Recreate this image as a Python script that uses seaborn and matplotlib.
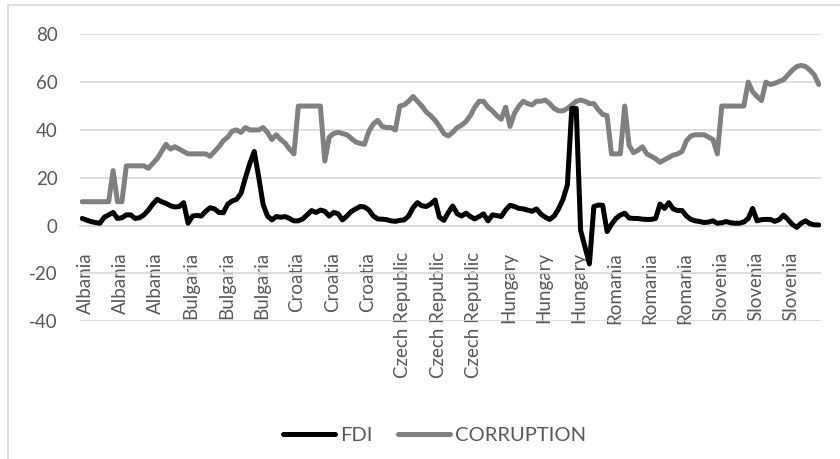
import matplotlib
matplotlib.use("Agg")
import matplotlib.pyplot as plt
import matplotlib.transforms as mtrans
import seaborn as sns
import pandas as pd
from matplotlib.patches import Rectangle
from matplotlib.lines import Line2D

# ---------------- data ----------------
countries = ["Albania", "Bulgaria", "Croatia", "Czech Republic",
             "Hungary", "Romania", "Slovenia"]
obs_per_country = 24
label_every = 8

fdi = [3, 2.3, 1.7, 1.3, 1, 3.5, 4.5, 5.5, 3, 3.3, 4.5, 4.5, 3, 3.3, 4.5, 6.5,
       9, 11, 10, 9.3, 8.3, 7.8, 8, 9.6,
       1, 4, 4.3, 4, 6, 7.5, 7, 5.5, 5.4, 9, 10.3, 11, 13.5, 20, 26, 31,
       20.5, 9, 4, 2.4, 3.8, 3.5, 3.8, 3,
       2, 2, 2.8, 4.5, 6.3, 5.5, 6.5, 6, 4, 5.5, 5, 2.4, 4, 5.9, 7, 8,
       7.8, 6.5, 4, 2.8, 2.7, 2.5, 2, 1.8,
       2.2, 2.4, 4, 7.5, 9.6, 8.3, 8, 9, 10.7, 3.5, 2.2, 5.5, 8.2, 5, 4, 5.2,
       3.8, 2.8, 3.8, 4.9, 2, 4.5, 4.2, 3.8,
       6.5, 8.5, 8, 7.2, 7, 6.5, 6, 7, 4.8, 3.5, 2.6, 4, 7, 11, 17, 49,
       49, -2, -9, -16, 8, 8.6, 8.5, -2.5,
       0.5, 3, 4.4, 5.2, 3.2, 3, 3, 2.7, 2.6, 2.6, 3, 9, 7.2, 9.6, 7, 6.3,
       6.3, 4, 2.6, 2, 1.7, 1.3, 1.5, 2,
       1, 1.2, 1.7, 1.2, 1, 1, 1.5, 3, 7.2, 2, 2.5, 2.6, 2.6, 1.8, 2.5, 4.4,
       2.6, 0.5, -0.7, 1, 2, 0.8, 0.3, 0.3]

corruption = [10, 10, 10, 10, 10, 10, 10, 23, 10, 10, 25, 25, 25, 25, 25, 24,
              26, 28, 31, 34, 32, 33, 32, 31,
              30, 30, 30, 30, 30, 29, 31, 33, 35.5, 37, 39.5, 40, 39, 41, 40, 40,
              40, 41, 39, 36, 38, 36, 34.5, 32,
              30, 50, 50, 50, 50, 50, 50, 27, 37, 38.5, 39, 38.5, 38, 36.5, 35, 34.4,
              34, 39.5, 42.5, 44, 41.5, 41, 41, 40,
              50, 50.5, 52, 54, 52, 50, 47.5, 46, 44, 41.5, 38.5, 37.5, 39, 41, 42, 43.5,
              46, 49.5, 52, 52, 49.5, 48, 46, 44.5,
              49.5, 41.5, 47, 50, 52, 51, 50.5, 52, 52, 52.5, 51, 49, 48, 48, 49, 50.5,
              52, 52.5, 52, 51, 51, 48.5, 46.5, 46,
              30, 30, 30, 50, 33.5, 30.5, 31.5, 33, 30, 29, 28, 26.5, 27.5, 28.5, 29.5, 30,
              31, 35.5, 37.5, 38, 38, 38, 37, 36,
              30, 50, 50, 50, 50, 50, 50, 60, 56, 54, 52.3, 60, 59, 59.5, 60.3, 61,
              63, 65, 66.5, 67, 66.5, 65, 63, 59]

y_ticks = [-40, -20, 0, 20, 40, 60, 80]
series_names = ["FDI", "CORRUPTION"]
series_colors = {"FDI": "#000000", "CORRUPTION": "#808080"}

# ---------------- frame ----------------
categories = [c for c in countries for _ in range(obs_per_country)]
idx = list(range(len(categories)))
df = pd.DataFrame({"idx": idx, "country": categories,
                   "FDI": fdi, "CORRUPTION": corruption})

sns.set_theme(style="white")
plt.rcParams["font.family"] = ["Lato", "DejaVu Sans"]

W, H = 840, 459
fig = plt.figure(figsize=(W / 100, H / 100), dpi=100)
ax = fig.add_axes([80 / W, (H - 321.3) / H, 741 / W, 287 / H])

lw = 3.6
sns.lineplot(data=df, x="idx", y="CORRUPTION", color=series_colors["CORRUPTION"],
             linewidth=lw, ax=ax, zorder=3, solid_joinstyle="round")
sns.lineplot(data=df, x="idx", y="FDI", color=series_colors["FDI"],
             linewidth=lw, ax=ax, zorder=4, solid_joinstyle="round")

ax.set_xlim(-0.5, len(idx) - 0.5)
ax.set_ylim(-40, 80)
ax.set_yticks(y_ticks)
ax.set_yticklabels([str(v) for v in y_ticks])
ax.set_xticks(idx[::label_every])
ax.set_xticklabels(categories[::label_every])
ax.set_xlabel("")
ax.set_ylabel("")

ax.grid(axis="y", color="#d9d9d9", linewidth=1.2, zorder=0)
ax.grid(axis="x", visible=False)
for s in ["top", "right", "left"]:
    ax.spines[s].set_visible(False)
ax.spines["bottom"].set_position(("data", 0))
ax.spines["bottom"].set_color("#d9d9d9")
ax.spines["bottom"].set_linewidth(1.2)
ax.spines["bottom"].set_zorder(1)
ax.set_facecolor("none")

ax.tick_params(axis="x", length=0, pad=19, labelsize=13.5, labelcolor="#595959",
               labelrotation=90)
ax.tick_params(axis="y", length=0, pad=16, labelsize=13.5, labelcolor="#595959")
shift = mtrans.ScaledTranslation(3 / 100, 0, fig.dpi_scale_trans)
for t in ax.get_xticklabels():
    t.set_rotation(90)
    t.set_ha("center")
    t.set_va("top")
    t.set_transform(t.get_transform() + shift)

handles = [Line2D([0], [0], color=series_colors[n], linewidth=lw,
                  solid_capstyle="round") for n in series_names]
fig.legend(handles, series_names, loc="center",
           bbox_to_anchor=(434.5 / W, 1 - 435 / H), ncol=2, frameon=False,
           fontsize=14.5, labelcolor="#595959", handlelength=2.6,
           handletextpad=0.25, columnspacing=1.25)

fig.add_artist(Rectangle((8 / W, -0.05), 1.0, (H - 5) / H + 0.05,
                         transform=fig.transFigure, fill=False,
                         edgecolor="#d9d9d9", linewidth=1.2))

fig.savefig("out.png", dpi=100)
